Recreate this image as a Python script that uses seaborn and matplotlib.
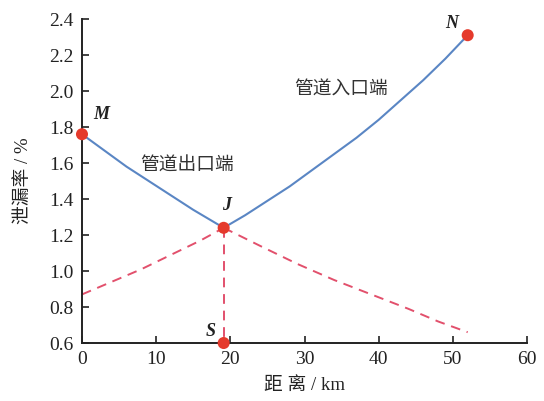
import matplotlib
matplotlib.use("Agg")
import matplotlib.pyplot as plt
import seaborn as sns
import pandas as pd

# Outlet-side leak-rate curve (M -> J)
outlet_x = [0, 3, 6, 9, 12, 15, 19.1]
outlet_y = [1.76, 1.67, 1.58, 1.50, 1.42, 1.34, 1.24]

# Inlet-side leak-rate curve (J -> N)
inlet_x = [19.1, 22, 25, 28, 31, 34, 37, 40, 43, 46, 49, 52]
inlet_y = [1.24, 1.31, 1.39, 1.47, 1.56, 1.65, 1.74, 1.84, 1.95, 2.06, 2.18, 2.31]

# Extensions of each curve past the junction point J
inlet_ext_x = [0, 4, 8, 12, 16, 19.1]
inlet_ext_y = [0.87, 0.94, 1.01, 1.09, 1.17, 1.24]
outlet_ext_x = [19.1, 24, 29, 34, 39, 44, 48, 52]
outlet_ext_y = [1.24, 1.14, 1.04, 0.95, 0.87, 0.79, 0.72, 0.66]

# Key points
pt_names = ["M", "J", "N", "S"]
pt_x = [0, 19.1, 52, 19.1]
pt_y = [1.76, 1.24, 2.31, 0.6]

x_ticks = [0, 10, 20, 30, 40, 50, 60]
y_ticks = [0.6, 0.8, 1.0, 1.2, 1.4, 1.6, 1.8, 2.0, 2.2, 2.4]

sns.set_theme(style="ticks")
plt.rcParams["font.family"] = ["Liberation Serif", "Noto Sans CJK SC", "DejaVu Sans"]

fig = plt.figure(figsize=(5.44, 4.01), dpi=100)
fig.patch.set_facecolor("white")
ax = fig.add_axes([0.1507, 0.1446, 0.8181, 0.808])

blue = "#5a86c4"
pink = "#e2506c"
red = "#e53a2c"

line_kw = dict(ax=ax, sort=False, estimator=None, errorbar=None)
sns.lineplot(x=outlet_x, y=outlet_y, color=blue, lw=1.5, **line_kw)
sns.lineplot(x=inlet_x, y=inlet_y, color=blue, lw=1.5, **line_kw)
for xs, ys in [(inlet_ext_x, inlet_ext_y), (outlet_ext_x, outlet_ext_y),
               ([pt_x[1], pt_x[3]], [pt_y[1], pt_y[3]])]:
    sns.lineplot(x=xs, y=ys, color=pink, lw=1.4,
                 linestyle=(0, (5, 3.5)), **line_kw)

pts = pd.DataFrame({"name": pt_names, "x": pt_x, "y": pt_y})
sns.scatterplot(data=pts, x="x", y="y", ax=ax, color=red, s=75,
                edgecolor="none", zorder=5, clip_on=False)

label_offsets = {"M": (8, 8), "J": (2, 10), "N": (-7, 2), "S": (-6, 2)}
label_ha = {"M": "left", "J": "center", "N": "right", "S": "right"}
for n, x, y in zip(pt_names, pt_x, pt_y):
    ax.annotate(n, (x, y), xytext=label_offsets[n], textcoords="offset points",
                ha=label_ha[n], va="bottom", fontsize=13, fontstyle="italic",
                fontweight="bold", family=["Liberation Serif"], color="#222222")

ax.text(14.2, 1.59, "管道出口端", fontsize=13.5, ha="center", va="center",
        family=["Noto Sans CJK SC"], color="#333333")
ax.text(34.9, 2.01, "管道入口端", fontsize=13.5, ha="center", va="center",
        family=["Noto Sans CJK SC"], color="#333333")

ax.set_xlim(0, 60)
ax.set_ylim(0.6, 2.4)
ax.set_xticks(x_ticks)
ax.set_yticks(y_ticks)
ax.set_xticklabels([str(t) for t in x_ticks])
ax.set_yticklabels([f"{t:.1f}" for t in y_ticks])
ax.tick_params(direction="in", length=5, width=1.2, labelsize=14,
               colors="#222222", pad=6)
for side in ["top", "right"]:
    ax.spines[side].set_visible(False)
for side in ["left", "bottom"]:
    ax.spines[side].set_linewidth(1.4)
    ax.spines[side].set_color("#222222")

ax.set_xlabel("距 离 / km", fontsize=13.5, color="#222222", labelpad=6)
ax.set_ylabel("泄漏率 / %", fontsize=13.5, color="#222222", labelpad=12)

fig.savefig("out.png", dpi=100, facecolor="white")
